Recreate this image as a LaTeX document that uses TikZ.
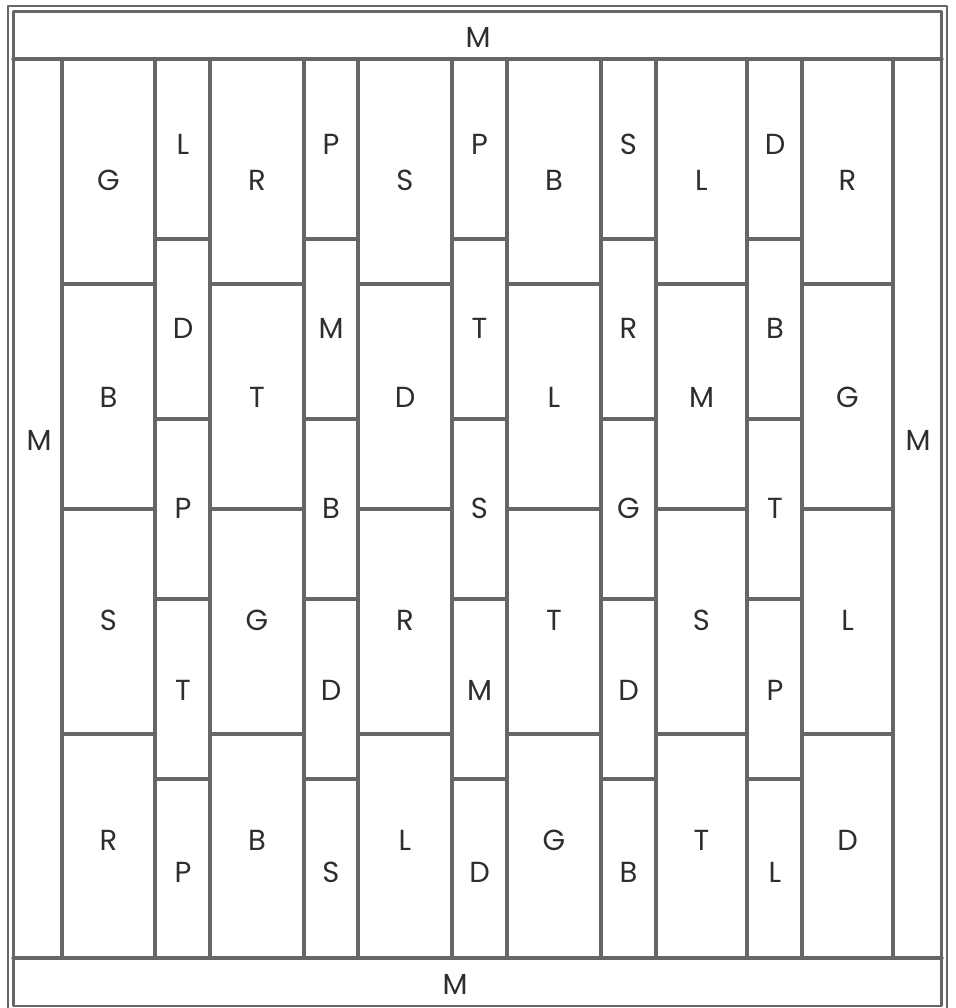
\documentclass[tikz,border=0pt]{standalone}
\usepackage{fontspec}
\setmainfont{Poppins}
\definecolor{linegray}{HTML}{666668}
\definecolor{labgray}{HTML}{2E2E2E}
\begin{document}
\begin{tikzpicture}[x=1pt,y=-1pt,
  ln/.style={draw=linegray, line width=3.3pt, line cap=round, line join=round},
  frame/.style={draw=linegray, line width=2.4pt, line join=round},
  lab/.style={inner sep=0pt, font=\fontsize{29}{34}\selectfont, text=labgray}]
\useasboundingbox (0,0) rectangle (955,1008);
\clip (0,0) rectangle (955,1008);
\fill[white] (0,0) rectangle (955,1008);
% double outer frame
\draw[frame] (8,6) rectangle (947,1014);
\draw[frame] (13.5,11.5) rectangle (941.5,1006);
% border bands
\draw[ln] (13,59) -- (942,59);
\draw[ln] (13,958) -- (942,958);
% column dividers
\foreach \x in {62,155,210,304,358,452,507,601,656,747,802,893}
  \draw[ln] (\x,59) -- (\x,958);
% wide column block seams
\foreach \xa/\xb in {62/155,210/304,358/452,507/601,656/747,802/893}
  \foreach \y in {284,509,734}
    \draw[ln] (\xa,\y) -- (\xb,\y);
% narrow column block seams
\foreach \xa/\xb in {155/210,304/358,452/507,601/656,747/802}
  \foreach \y in {239,419,599,779}
    \draw[ln] (\xa,\y) -- (\xb,\y);
% border labels
\node[lab] (mtop) at (478,37) {M};
\node[lab] (mbot) at (455,984) {M};
\node[lab] (mleft) at (39,440) {M};
\node[lab] (mright) at (918,440) {M};
% wide column labels
\foreach \x/\a/\b/\c/\d [count=\i] in
  {108.5/G/B/S/R, 257/R/T/G/B, 405/S/D/R/L, 554/B/L/T/G, 701.5/L/M/S/T, 847.5/R/G/L/D}{
  \node[lab] (w\i a) at (\x,180) {\a};
  \node[lab] (w\i b) at (\x,397) {\b};
  \node[lab] (w\i c) at (\x,620) {\c};
  \node[lab] (w\i d) at (\x,840) {\d};
}
% narrow column labels
\foreach \x/\a/\b/\c/\d/\e [count=\i] in
  {183/L/D/P/T/P, 331/P/M/B/D/S, 479.5/P/T/S/M/D, 628.5/S/R/G/D/B, 775/D/B/T/P/L}{
  \node[lab] (n\i a) at (\x,144) {\a};
  \node[lab] (n\i b) at (\x,328) {\b};
  \node[lab] (n\i c) at (\x,508) {\c};
  \node[lab] (n\i d) at (\x,690) {\d};
  \node[lab] (n\i e) at (\x,872) {\e};
}
\end{tikzpicture}
\end{document}
